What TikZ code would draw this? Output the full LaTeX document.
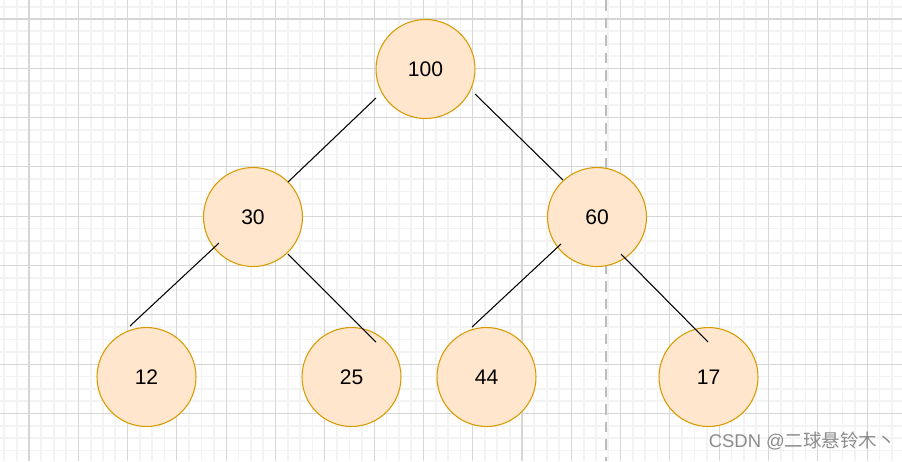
\documentclass[tikz,border=0pt]{standalone}
\usepackage{fontspec}
\setmainfont{Liberation Sans}
\newfontfamily\cjk{Noto Sans CJK SC}
\definecolor{nodefill}{HTML}{FFE6CC}
\definecolor{nodeline}{HTML}{D79B00}
\definecolor{majorgray}{HTML}{D6D6D6}
\definecolor{minorgray}{HTML}{F3F3F3}
\definecolor{splitgray}{HTML}{BDBDBD}
\definecolor{markgray}{HTML}{8C8C8C}
\tikzset{
    heapnode/.style={circle,draw=nodeline,fill=nodefill,line width=0.6pt,minimum size=1.98cm,inner sep=0pt,font=\fontsize{12}{14}\selectfont},
    edge/.style={black,line width=0.6pt},
    minorline/.style={minorgray,line width=1pt},
    majorline/.style={majorgray,line width=0.6pt},
    watermark/.style={text=markgray,font=\fontsize{10.5}{12}\selectfont,inner sep=0pt}
}
\begin{document}
\begin{tikzpicture}[x=0.02cm,y=-0.02cm]
    \useasboundingbox (0,0) rectangle (902,461);
    \fill[white] (0,0) rectangle (902,461);
    \begin{scope}
        \clip (0,0) rectangle (902,461);
        \foreach \k in {-3,...,72} {
            \pgfmathtruncatemacro{\r}{mod(\k+8,4)}
            \ifnum\r>0 \draw[minorline] ({29+12.325*\k},0) -- ({29+12.325*\k},461);\fi
        }
        \foreach \k in {-2,...,38} {
            \pgfmathtruncatemacro{\r}{mod(\k+8,4)}
            \ifnum\r>0 \draw[minorline] (0,{19+12.325*\k}) -- (902,{19+12.325*\k});\fi
        }
        \foreach \k in {0,...,18} {
            \draw[majorline] ({29+49.3*\k},0) -- ({29+49.3*\k},461);
        }
        \foreach \k in {0,...,9} {
            \draw[majorline] (0,{19+49.3*\k}) -- (902,{19+49.3*\k});
        }
    \end{scope}
    \coordinate (split top) at (606,0);
    \coordinate (split bot) at (606,461);
    \draw[splitgray,line width=0.7pt,dash pattern=on 6pt off 4pt] (split top) -- (split bot);

    % edges
    \coordinate (r1) at (376,98);  \coordinate (a30) at (288,182);
    \coordinate (r2) at (475,94);  \coordinate (a60) at (563,180);
    \coordinate (l30) at (219,243); \coordinate (a12) at (130,326);
    \coordinate (m30) at (288,254); \coordinate (a25) at (376,342);
    \coordinate (l60) at (561,244); \coordinate (a44) at (472,327);
    \coordinate (m60) at (621,254); \coordinate (a17) at (708,342);

    \node[heapnode] (n100) at (425.5,69) {100};
    \node[heapnode] (n30) at (253,217) {30};
    \node[heapnode] (n60) at (597,217) {60};
    \node[heapnode] (n12) at (146.5,377) {12};
    \node[heapnode] (n25) at (351.5,377) {25};
    \node[heapnode] (n44) at (486.5,377) {44};
    \node[heapnode] (n17) at (708.5,377) {17};

    \foreach \a/\b in {r1/a30,r2/a60,l30/a12,m30/a25,l60/a44,m60/a17} {\draw[edge] (\a)--(\b);}

    \node[watermark,anchor=east] (mark) at (896,441) {CSDN @{\cjk 二球悬铃木丶}};
\end{tikzpicture}
\end{document}
